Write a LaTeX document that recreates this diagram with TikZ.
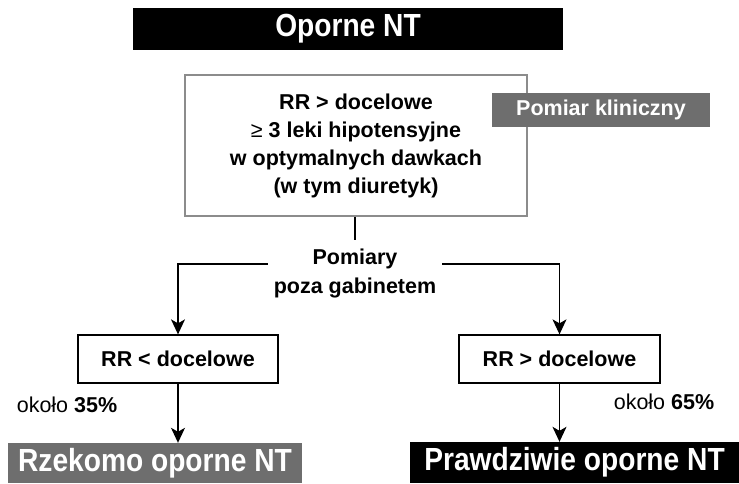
\documentclass[tikz,border=0pt]{standalone}
\usepackage{fontspec}
\setmainfont{Liberation Sans}
\newfontfamily\headfont{Liberation Sans}[FakeStretch=0.88]
\newfontfamily\bodyfont{Liberation Sans}[FakeStretch=1.0]
\usetikzlibrary{arrows.meta}
\definecolor{bargray}{HTML}{6E6E6E}
\definecolor{linegray}{HTML}{8C8C8C}
\tikzset{
 headbar/.style={fill=black,text=white,inner sep=0pt,
   font={\headfont\bfseries\fontsize{32}{36}\selectfont}},
 greybar/.style={headbar,fill=bargray},
 mainbox/.style={draw=linegray,line width=1.5pt,inner sep=0pt,align=center,
   font={\bodyfont\bfseries\fontsize{21.5}{28}\selectfont}},
 resbox/.style={draw,line width=1.3pt,inner sep=0pt,
   font={\bodyfont\bfseries\fontsize{21.5}{24}\selectfont}},
 tagbox/.style={fill=bargray,text=white,inner sep=0pt,
   font={\bodyfont\bfseries\fontsize{21.5}{24}\selectfont}},
 share/.style={font={\bodyfont\fontsize{21.5}{24}\selectfont}},
 arr/.style={draw,line width=1.3pt,-{Stealth[length=15pt,width=14pt,inset=4pt]}},
}
\begin{document}
\begin{tikzpicture}[x=1pt,y=-1pt]
 \useasboundingbox (0,0) rectangle (739,483);

 \node[headbar,minimum width=430pt,minimum height=42pt] (title) at (348,29) {Oporne NT};

 \node[mainbox,minimum width=342pt,minimum height=141pt] (main) at (356,145.5)
   {RR > docelowe\\{\fontseries{m}\selectfont ≥} 3 leki hipotensyjne\\w optymalnych dawkach\\(w tym diuretyk)};
 \node[tagbox,minimum width=218pt,minimum height=34pt] (clin) at (601,110) {Pomiar kliniczny};

 \node[align=center,inner xsep=6pt,inner ysep=8pt,
   font={\bodyfont\bfseries\fontsize{21.5}{29}\selectfont}] (meas) at (355,273) {Pomiary\\poza gabinetem};

 \node[resbox,minimum width=200pt,minimum height=48pt] (low) at (178,359) {RR < docelowe};
 \node[resbox,minimum width=201pt,minimum height=48pt] (high) at (559.5,359) {RR > docelowe};

 \node[greybar,minimum width=294pt,minimum height=40pt] (pseudo) at (155,463) {Rzekomo oporne NT};
 \node[headbar,minimum width=329pt,minimum height=41pt] (true) at (574.5,462.5) {Prawdziwie oporne NT};

 \node[share] (lowpct) at (67,405) {około {\bfseries 35\%}};
 \node[share] (highpct) at (664,402) {około {\bfseries 65\%}};

 \draw[line width=1.3pt] (main.south -| meas.north) -- (meas.north) ;
 \draw[arr] ([yshift=9pt]meas.west) -| (low.north) ;
 \draw[arr] ([yshift=9pt]meas.east) -| (high.north) ;
 \draw[arr] (low.south) -- (low.south |- pseudo.north) ;
 \draw[arr] (high.south) -- (high.south |- true.north) ;

\end{tikzpicture}
\end{document}
